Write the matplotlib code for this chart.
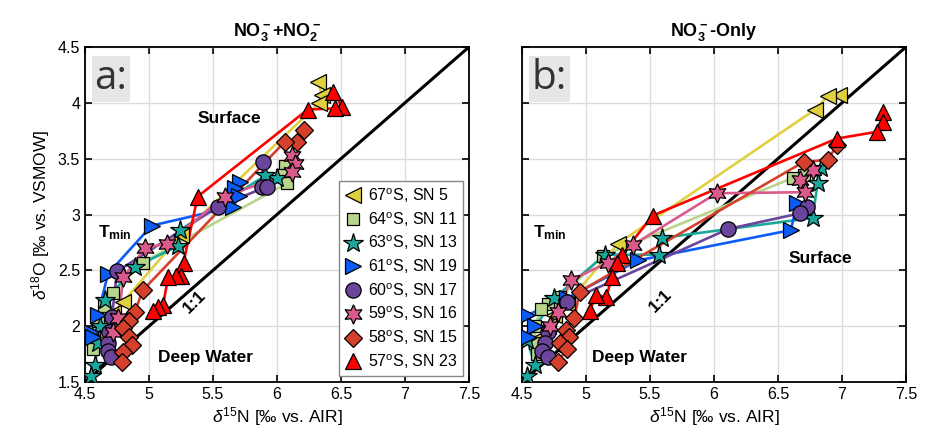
import numpy as np
import matplotlib
matplotlib.use("Agg")
import matplotlib.pyplot as plt
from matplotlib.lines import Line2D

plt.rcParams['font.family'] = ['Liberation Sans', 'DejaVu Sans']
plt.rcParams['mathtext.fontset'] = 'custom'
plt.rcParams['mathtext.rm'] = 'Liberation Sans'
plt.rcParams['mathtext.it'] = 'Liberation Sans:italic'
plt.rcParams['mathtext.bf'] = 'Liberation Sans:bold'

# ---- data: d15N (x), d18O (y), surface -> deep ----
labels = ['67$^{\\mathrm{o}}$S, SN 5', '64$^{\\mathrm{o}}$S, SN 11', '63$^{\\mathrm{o}}$S, SN 13',
          '61$^{\\mathrm{o}}$S, SN 19', '60$^{\\mathrm{o}}$S, SN 17', '59$^{\\mathrm{o}}$S, SN 16',
          '58$^{\\mathrm{o}}$S, SN 15', '57$^{\\mathrm{o}}$S, SN 23']

# panel a: NO3- + NO2-
sn5_a_x = [6.32, 6.35, 6.33, 5.25, 4.80, 4.72, 4.65, 4.60]
sn5_a_y = [4.19, 4.07, 4.00, 2.82, 2.22, 2.12, 2.02, 1.90]
sn11_a_x = [6.06, 6.04, 6.08, 4.95, 4.72, 4.65, 4.60, 4.57, 4.56]
sn11_a_y = [3.43, 3.35, 3.28, 2.57, 2.30, 2.18, 2.05, 1.90, 1.80]
sn13_a_x = [6.00, 5.91, 5.24, 5.23, 4.89, 4.66, 4.62, 4.60, 4.58, 4.55]
sn13_a_y = [3.33, 3.35, 2.86, 2.72, 2.53, 2.23, 2.00, 1.85, 1.65, 1.55]
sn19_a_x = [5.71, 5.67, 5.70, 5.66, 5.02, 4.68, 4.60, 4.55, 4.56]
sn19_a_y = [3.29, 3.24, 3.17, 3.07, 2.90, 2.47, 2.10, 1.95, 1.90]
sn17_a_x = [5.89, 5.88, 5.92, 5.54, 4.75, 4.71, 4.69, 4.68, 4.68, 4.70]
sn17_a_y = [3.47, 3.25, 3.25, 3.07, 2.49, 2.08, 1.95, 1.85, 1.78, 1.72]
sn16_a_x = [6.12, 6.14, 6.12, 5.59, 5.14, 4.97, 4.80, 4.76, 4.72]
sn16_a_y = [3.52, 3.45, 3.38, 3.16, 2.74, 2.70, 2.44, 2.07, 1.95]
sn15_a_x = [6.21, 6.16, 6.06, 4.95, 4.89, 4.84, 4.80, 4.84, 4.87, 4.80, 4.79]
sn15_a_y = [3.76, 3.65, 3.65, 2.32, 2.13, 2.05, 1.98, 1.90, 1.83, 1.77, 1.68]
sn23_a_x = [6.44, 6.51, 6.45, 6.24, 5.38, 5.27, 5.25, 5.21, 5.15, 5.11, 5.07, 5.03]
sn23_a_y = [4.10, 3.96, 3.95, 3.94, 3.16, 2.57, 2.45, 2.45, 2.44, 2.19, 2.17, 2.14]

# panel b: NO3- only
sn5_b_x = [6.98, 6.89, 6.79, 5.25, 4.85, 4.75, 4.70, 4.65]
sn5_b_y = [4.07, 4.06, 3.94, 2.74, 2.20, 2.10, 2.00, 1.90]
sn11_b_x = [6.70, 6.62, 5.13, 4.80, 4.75, 4.70, 4.65, 4.60, 4.60, 4.62]
sn11_b_y = [3.35, 3.33, 2.63, 2.26, 2.22, 2.20, 2.15, 2.00, 1.85, 1.75]
sn13_b_x = [6.84, 6.81, 6.77, 5.59, 5.57, 5.15, 4.75, 4.54, 4.60, 4.54]
sn13_b_y = [3.42, 3.28, 2.97, 2.79, 2.64, 2.64, 2.25, 1.88, 1.65, 1.55]
sn19_b_x = [6.65, 6.60, 5.41, 4.85, 4.54, 4.60, 4.55]
sn19_b_y = [3.10, 2.86, 2.59, 2.25, 2.10, 2.00, 1.90]
sn17_b_x = [6.73, 6.67, 6.11, 4.85, 4.70, 4.68, 4.66, 4.70]
sn17_b_y = [3.07, 3.01, 2.87, 2.22, 1.95, 1.85, 1.78, 1.72]
sn16_b_x = [6.77, 6.67, 6.71, 6.02, 5.37, 5.17, 4.88, 4.78, 4.72]
sn16_b_y = [3.40, 3.31, 3.20, 3.19, 2.73, 2.57, 2.41, 2.13, 2.00]
sn15_b_x = [6.96, 6.89, 6.70, 4.95, 4.91, 4.84, 4.87, 4.80, 4.85, 4.78]
sn15_b_y = [3.62, 3.49, 3.47, 2.31, 2.07, 1.97, 1.90, 1.85, 1.80, 1.68]
sn23_b_x = [7.32, 7.32, 7.27, 6.96, 5.52, 5.28, 5.24, 5.20, 5.16, 5.08, 5.03]
sn23_b_y = [3.92, 3.83, 3.74, 3.68, 2.99, 2.64, 2.57, 2.44, 2.26, 2.28, 2.14]

colors = ['#e0d040', '#b8d58c', '#1aa89c', '#0a5cf5', '#6b449b', '#db5a8c', '#d4402c', '#ff0000']
markers = ['<', 's', '*', '>', 'o', (6, 1, 0), 'D', '^']
msizes = [11, 9, 15, 11, 11, 14, 9, 11]

panel_a = [(sn5_a_x, sn5_a_y), (sn11_a_x, sn11_a_y), (sn13_a_x, sn13_a_y), (sn19_a_x, sn19_a_y),
           (sn17_a_x, sn17_a_y), (sn16_a_x, sn16_a_y), (sn15_a_x, sn15_a_y), (sn23_a_x, sn23_a_y)]
panel_b = [(sn5_b_x, sn5_b_y), (sn11_b_x, sn11_b_y), (sn13_b_x, sn13_b_y), (sn19_b_x, sn19_b_y),
           (sn17_b_x, sn17_b_y), (sn16_b_x, sn16_b_y), (sn15_b_x, sn15_b_y), (sn23_b_x, sn23_b_y)]

fig = plt.figure(figsize=(9.29, 4.42), dpi=100)
ax_a = fig.add_axes([0.0915, 0.1357, 0.4133, 0.758])
ax_b = fig.add_axes([0.5619, 0.1357, 0.4133, 0.758])

def draw_panel(ax, data):
    ax.plot([4.5, 7.5], [1.5, 4.5], color='black', lw=2.2, zorder=2)
    # lines first, then markers on top
    for (x, y), c in zip(data, colors):
        ax.plot(x, y, color=c, lw=1.9, zorder=3)
    for (x, y), c, m, s in zip(data, colors, markers, msizes):
        ax.plot(x, y, ls='none', marker=m, ms=s, mfc=c, mec='black', mew=0.9, zorder=4)
    ax.set_xlim(4.5, 7.5)
    ax.set_ylim(1.5, 4.5)
    ax.set_xticks([4.5, 5, 5.5, 6, 6.5, 7, 7.5])
    ax.set_xticklabels(['4.5', '5', '5.5', '6', '6.5', '7', '7.5'])
    ax.set_yticks([1.5, 2, 2.5, 3, 3.5, 4, 4.5])
    ax.set_yticklabels(['1.5', '2', '2.5', '3', '3.5', '4', '4.5'])
    ax.grid(color='#dcdcdc', lw=1)
    ax.set_axisbelow(True)
    ax.tick_params(direction='in', top=True, right=True, labelsize=11.5, length=5, width=1.2)
    for sp in ax.spines.values():
        sp.set_linewidth(1.3)
    ax.set_xlabel(r'$\delta^{15}$N [‰ vs. AIR]', fontsize=12.5, labelpad=2)

draw_panel(ax_a, panel_a)
draw_panel(ax_b, panel_b)
ax_b.set_yticklabels([])
ax_a.set_ylabel(r'$\delta^{18}$O [‰ vs. VSMOW]', fontsize=12.5, labelpad=4)

ax_a.set_title(r'$\mathbf{NO_3^-{+}NO_2^-}$', fontsize=13, pad=8)
ax_b.set_title(r'$\mathbf{NO_3^-}$-Only', fontsize=13, fontweight='bold', pad=8)

for ax, lab in [(ax_a, 'a:'), (ax_b, 'b:')]:
    ax.text(0.025, 0.965, lab, transform=ax.transAxes, ha='left', va='top', fontsize=29,
            family=['Open Sans', 'DejaVu Sans'], color='#333333',
            bbox=dict(facecolor='#e6e6e6', edgecolor='none', pad=2), zorder=6)

txt = dict(fontsize=12.5, fontweight='bold', ha='center', va='center', zorder=6)
ax_a.text(5.63, 3.86, 'Surface', **txt)
ax_a.text(5.44, 1.72, 'Deep Water', **txt)
ax_a.text(4.73, 2.84, r'T$_{\mathbf{min}}$', **txt)
ax_a.text(5.36, 2.22, '1:1', rotation=45, rotation_mode='anchor', **txt)
ax_b.text(6.83, 2.61, 'Surface', **txt)
ax_b.text(5.42, 1.72, 'Deep Water', **txt)
ax_b.text(4.72, 2.84, r'T$_{\mathbf{min}}$', **txt)
ax_b.text(5.58, 2.23, '1:1', rotation=45, rotation_mode='anchor', **txt)

handles = [Line2D([], [], ls='none', marker=m, ms=s, mfc=c, mec='black', mew=0.9)
           for c, m, s in zip(colors, markers, msizes)]
leg = ax_a.legend(handles, labels, loc='lower right', fontsize=11.5, fancybox=False,
                  edgecolor='#888888', framealpha=1, handlelength=1.2, handletextpad=0.3,
                  labelspacing=0.32, borderpad=0.3, borderaxespad=0.4)
leg.set_zorder(7)

fig.savefig('out.png', dpi=100)
